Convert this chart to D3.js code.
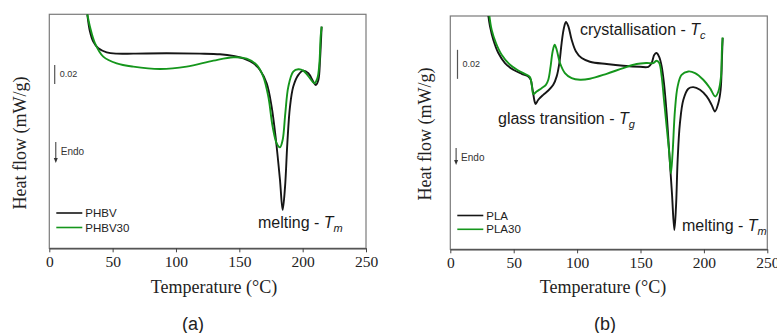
<!DOCTYPE html>
<html>
<head>
<meta charset="utf-8">
<script src="https://cdn.jsdelivr.net/npm/d3@7.9.0/dist/d3.min.js"></script>
<style>
  html, body { margin: 0; padding: 0; background: #fff; }
  svg { display: block; }
</style>
</head>
<body>
<svg id="chart" width="777" height="333"></svg>
<script>
// x axis
const xTicks = [0, 50, 100, 150, 200, 250];

// (a) PHBV
const phbvT = [30.0, 32.1, 34.7, 38.7, 45.3, 53.2, 66.3, 92.6, 118.9, 134.7, 145.3, 153.2, 161.1, 166.3, 171.6, 175.5, 178.9, 182.1, 184.2, 186.1, 187.9, 190.0, 192.6, 196.6, 200.5, 204.5, 208.4, 210.3, 212.4, 213.7, 214.5, 215.0];
const phbvV = [0.2463, 0.2281, 0.2175, 0.2105, 0.2063, 0.2049, 0.2049, 0.2053, 0.2049, 0.2042, 0.2025, 0.2000, 0.1947, 0.1877, 0.1737, 0.1491, 0.1140, 0.0719, 0.0404, 0.0649, 0.1105, 0.1491, 0.1702, 0.1825, 0.1870, 0.1842, 0.1754, 0.1719, 0.1772, 0.1982, 0.2193, 0.2333];

// (a) PHBV30
const phbv30T = [30.0, 32.1, 36.1, 42.6, 53.2, 66.3, 87.4, 108.4, 129.5, 145.3, 155.8, 163.7, 168.9, 172.9, 176.3, 179.5, 182.1, 184.2, 186.3, 188.7, 192.6, 196.6, 200.5, 205.8, 209.2, 211.6, 213.2, 214.2, 215.0];
const phbv30V = [0.2463, 0.2333, 0.2158, 0.2018, 0.1947, 0.1912, 0.1888, 0.1912, 0.1975, 0.2011, 0.1996, 0.1930, 0.1807, 0.1596, 0.1281, 0.1105, 0.1063, 0.1140, 0.1421, 0.1702, 0.1860, 0.1884, 0.1870, 0.1789, 0.1737, 0.1789, 0.1947, 0.2228, 0.2333];

// (b) PLA
const plaT = [30.0, 31.3, 33.9, 37.9, 43.1, 49.7, 56.3, 61.5, 63.4, 64.9, 66.5, 67.3, 69.4, 73.3, 77.3, 81.2, 83.9, 86.0, 87.8, 89.6, 91.2, 93.1, 95.7, 99.1, 103.6, 110.1, 123.3, 136.4, 149.6, 156.2, 158.8, 160.9, 162.7, 164.8, 166.7, 168.5, 170.6, 172.7, 174.8, 176.7, 178.0, 179.3, 181.1, 183.8, 187.7, 191.6, 196.9, 202.2, 206.1, 208.7, 211.4, 213.2, 214.2, 214.8];
const plaV = [0.1609, 0.1536, 0.1444, 0.1352, 0.1283, 0.1237, 0.1209, 0.1191, 0.1168, 0.1099, 0.1018, 0.1000, 0.1030, 0.1064, 0.1094, 0.1133, 0.1191, 0.1283, 0.1421, 0.1524, 0.1566, 0.1536, 0.1444, 0.1363, 0.1317, 0.1292, 0.1276, 0.1264, 0.1257, 0.1257, 0.1283, 0.1340, 0.1352, 0.1324, 0.1260, 0.1145, 0.0938, 0.0662, 0.0386, 0.0133, 0.0294, 0.0616, 0.0869, 0.1030, 0.1106, 0.1117, 0.1099, 0.1053, 0.0995, 0.0949, 0.1007, 0.1099, 0.1306, 0.1455];

// (b) PLA30
const pla30T = [30.8, 32.6, 36.0, 40.5, 47.1, 53.6, 60.2, 62.8, 64.4, 65.5, 68.1, 72.0, 75.4, 77.3, 79.1, 80.7, 82.3, 83.9, 86.5, 90.4, 95.7, 102.3, 110.1, 123.3, 136.4, 146.9, 154.8, 160.1, 162.7, 164.8, 166.7, 168.5, 170.6, 172.7, 174.0, 175.3, 177.2, 179.3, 182.4, 187.7, 193.0, 199.5, 204.8, 209.0, 211.4, 213.5, 214.2, 214.8];
const pla30V = [0.1609, 0.1513, 0.1421, 0.1340, 0.1271, 0.1232, 0.1202, 0.1186, 0.1122, 0.1069, 0.1087, 0.1110, 0.1133, 0.1168, 0.1260, 0.1363, 0.1409, 0.1375, 0.1283, 0.1214, 0.1179, 0.1168, 0.1175, 0.1209, 0.1248, 0.1276, 0.1283, 0.1283, 0.1299, 0.1283, 0.1191, 0.1030, 0.0846, 0.0662, 0.0524, 0.0662, 0.0961, 0.1122, 0.1202, 0.1225, 0.1214, 0.1168, 0.1110, 0.1053, 0.1087, 0.1191, 0.1375, 0.1460];

const black = "#161616";
const green = "#15961c";
const serif = "'Liberation Serif', 'Times New Roman', serif";
const sans = "'Liberation Sans', Arial, sans-serif";

const svg = d3.select("#chart");

function zip(t, v) { return t.map((d, i) => ({ t: d, v: v[i] })); }

function drawPanel(p) {
  const x = d3.scaleLinear().domain([0, 250]).range([p.left, p.right]);
  const y = d3.scaleLinear().domain([0, p.yMax]).range([p.bottom, p.top]);
  const g = svg.append("g");

  g.append("clipPath").attr("id", p.id + "-clip")
    .append("rect")
    .attr("x", p.left).attr("y", p.top)
    .attr("width", p.right - p.left).attr("height", p.bottom - p.top);

  // frame
  g.append("rect")
    .attr("x", p.left).attr("y", p.top)
    .attr("width", p.right - p.left).attr("height", p.bottom - p.top)
    .attr("fill", "none").attr("stroke", "#7a7a7a").attr("stroke-width", 1.2);

  const axis = g.append("g")
    .attr("transform", `translate(0,${p.bottom})`)
    .call(d3.axisBottom(x).tickValues(xTicks).tickSize(4).tickSizeOuter(0).tickPadding(4));
  axis.select(".domain").attr("stroke", "#444").attr("stroke-width", 1.2);
  axis.selectAll(".tick line").attr("stroke", "#444");
  axis.selectAll(".tick text")
    .attr("font-family", serif).attr("font-size", 15.5).attr("fill", "#222");

  g.append("text")
    .attr("x", p.xTitleX).attr("y", 293)
    .attr("text-anchor", "middle")
    .attr("font-family", serif).attr("font-size", 18).attr("fill", "#222")
    .text("Temperature (°C)");

  g.append("text")
    .attr("transform", `translate(${p.yTitleX},${p.yTitleY}) rotate(-90)`)
    .attr("text-anchor", "middle")
    .attr("font-family", serif).attr("font-size", 18).attr("fill", "#222")
    .text("Heat flow (mW/g)");

  g.append("text")
    .attr("x", p.tagX).attr("y", 330)
    .attr("text-anchor", "middle")
    .attr("font-family", sans).attr("font-size", 18).attr("fill", "#222")
    .text(p.tag);

  // curves
  const line = d3.line()
    .x(d => x(d.t)).y(d => y(d.v))
    .curve(d3.curveCatmullRom.alpha(0.5));
  const curves = g.append("g").attr("clip-path", `url(#${p.id}-clip)`);
  p.series.forEach(s => {
    curves.append("path")
      .datum(zip(s.t, s.v))
      .attr("d", line)
      .attr("fill", "none")
      .attr("stroke", s.color)
      .attr("stroke-width", 1.9)
      .attr("stroke-linejoin", "round");
  });

  // 0.02 scale bar
  const barX = p.left + p.barDx;
  g.append("line")
    .attr("x1", barX).attr("x2", barX)
    .attr("y1", y(p.barBase)).attr("y2", y(p.barBase + 0.02))
    .attr("stroke", "#555").attr("stroke-width", 1.2);
  g.append("text")
    .attr("x", barX + 5).attr("y", (y(p.barBase) + y(p.barBase + 0.02)) / 2 + 3)
    .attr("font-family", sans).attr("font-size", 9).attr("fill", "#333")
    .text("0.02");

  // Endo arrow
  const ax = p.left + p.endoDx;
  g.append("line")
    .attr("x1", ax).attr("x2", ax)
    .attr("y1", p.endoY0).attr("y2", p.endoY1 - 4)
    .attr("stroke", "#333").attr("stroke-width", 1);
  g.append("path")
    .attr("d", `M${ax - 2},${p.endoY1 - 5} L${ax + 2},${p.endoY1 - 5} L${ax},${p.endoY1} Z`)
    .attr("fill", "#333");
  g.append("text")
    .attr("x", ax + 5).attr("y", p.endoY0 + 13)
    .attr("font-family", sans).attr("font-size", 10).attr("fill", "#333")
    .text("Endo");

  // legend
  p.series.forEach((s, i) => {
    const ly = p.legY + i * p.legGap;
    g.append("line")
      .attr("x1", p.left + 7).attr("x2", p.left + 33)
      .attr("y1", ly).attr("y2", ly)
      .attr("stroke", s.color).attr("stroke-width", 1.6);
    g.append("text")
      .attr("x", p.left + 36).attr("y", ly + 4)
      .attr("font-family", sans).attr("font-size", 11.5).attr("fill", "#222")
      .text(s.name);
  });

  // annotations
  p.notes.forEach(n => {
    const t = g.append("text")
      .attr("x", n.x).attr("y", n.y)
      .attr("font-family", sans).attr("font-size", 16).attr("fill", "#1a1a1a");
    t.append("tspan").text(n.label + " - ");
    t.append("tspan").attr("font-style", "italic").text("T");
    t.append("tspan").attr("font-style", "italic").attr("font-size", 11).attr("dy", 4).text(n.sub);
  });
}

drawPanel({
  id: "a", tag: "(a)", tagX: 193,
  left: 49.3, right: 366, top: 14.3, bottom: 248.3, yMax: 0.2463,
  xTitleX: 214, yTitleX: 26, yTitleY: 143,
  barDx: 5.4, barBase: 0.173,
  endoDx: 6.5, endoY0: 142, endoY1: 163,
  legY: 213, legGap: 14.5,
  series: [
    { name: "PHBV", t: phbvT, v: phbvV, color: black },
    { name: "PHBV30", t: phbv30T, v: phbv30V, color: green }
  ],
  notes: [{ label: "melting", sub: "m", x: 258, y: 228 }]
});

drawPanel({
  id: "b", tag: "(b)", tagX: 605,
  left: 450.3, right: 767.3, top: 16, bottom: 249.3, yMax: 0.1607,
  xTitleX: 603, yTitleX: 431, yTitleY: 134,
  barDx: 7.2, barBase: 0.1174,
  endoDx: 5.8, endoY0: 148, endoY1: 165,
  legY: 215.5, legGap: 13.8,
  series: [
    { name: "PLA", t: plaT, v: plaV, color: black },
    { name: "PLA30", t: pla30T, v: pla30V, color: green }
  ],
  notes: [
    { label: "crystallisation", sub: "c", x: 580, y: 35 },
    { label: "glass transition", sub: "g", x: 498, y: 124 },
    { label: "melting", sub: "m", x: 682, y: 231 }
  ]
});
</script>
</body>
</html>
